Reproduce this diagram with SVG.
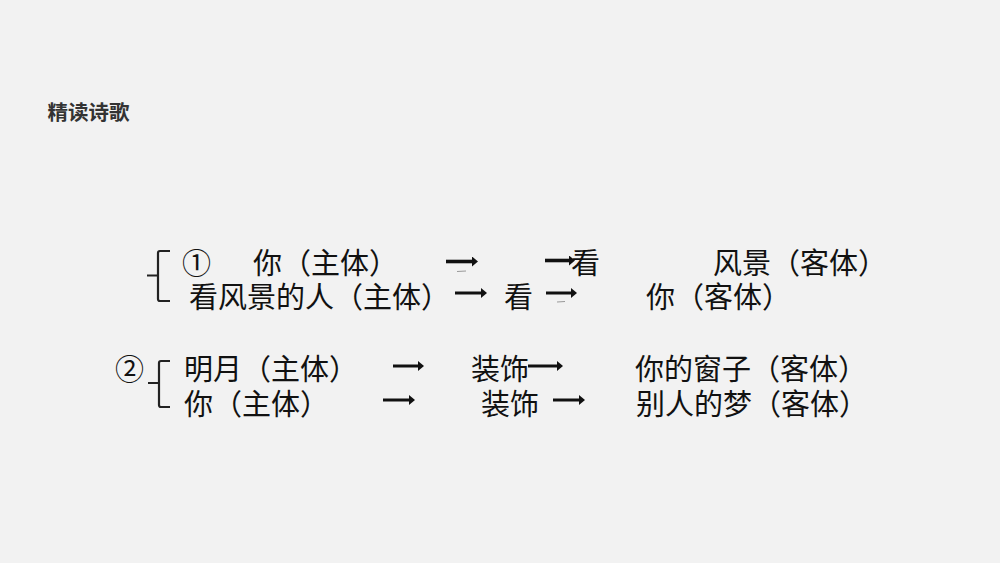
<svg xmlns="http://www.w3.org/2000/svg" width="1000" height="563" viewBox="0 0 1000 563">
  <style>
    .t { font-family: "Noto Sans CJK SC", "Noto Sans", sans-serif; font-size: 29px; fill: #111111; }
    .title { font-family: "Noto Sans CJK SC", "Noto Sans", sans-serif; font-size: 20.5px; font-weight: bold; fill: #333333; }
    .arr { stroke: #111111; stroke-width: 3.6; fill: none; marker-end: url(#head); }
    .arr2 { stroke: #111111; stroke-width: 3; fill: none; marker-end: url(#head); }
    .brace { stroke: #222222; stroke-width: 2.2; fill: none; stroke-linejoin: round; }
    .dash { stroke: #999999; stroke-width: 1; }
  </style>
  <defs>
    <marker id="head" viewBox="0 0 6 10" refX="0" refY="5" markerWidth="6" markerHeight="10" markerUnits="userSpaceOnUse" orient="auto">
      <path d="M0,0 L6,5 L0,10 z" fill="#111111"/>
    </marker>
  </defs>
  <rect width="1000" height="563" fill="#f2f2f2"/>
  <text class="title" x="47.5" y="119.5">精读诗歌</text>

  <g id="group1">
    <path class="brace" d="M170,251 H160 Q158,251 158,253 V299 Q158,301 160,301 H170 M147,275.5 H158"/>
    <g id="row1">
      <text class="t" x="182" y="273.5">①</text>
      <text class="t" x="253" y="273.5">你（主体）</text>
      <text class="t" x="571" y="273.5">看</text>
      <text class="t" x="713" y="273.5">风景（客体）</text>
    </g>
    <g id="row2">
      <text class="t" x="189" y="308">看风景的人（主体）</text>
      <text class="t" x="504" y="308">看</text>
      <text class="t" x="646" y="308">你（客体）</text>
    </g>
  </g>

  <g id="group2">
    <text class="t" x="115" y="379.5">②</text>
    <path class="brace" d="M170,361 H161 Q159,361 159,363 V405 Q159,407 161,407 H170 M148,383 H159"/>
    <g id="row3">
      <text class="t" x="184" y="379.5">明月（主体）</text>
      <text class="t" x="471" y="379.5">装饰</text>
      <text class="t" x="635" y="379.5">你的窗子（客体）</text>
    </g>
    <g id="row4">
      <text class="t" x="184" y="414.5">你（主体）</text>
      <text class="t" x="481" y="414.5">装饰</text>
      <text class="t" x="636" y="414.5">别人的梦（客体）</text>
    </g>
  </g>

  <g id="connectors">
    <line class="arr" x1="446" y1="261.5" x2="472" y2="261.5"/>
    <line class="arr" x1="545" y1="260.5" x2="569" y2="260.5"/>
    <line class="arr2" x1="455" y1="293" x2="481" y2="293"/>
    <line class="arr2" x1="546" y1="293" x2="571" y2="293"/>
    <line class="arr2" x1="393" y1="366" x2="418" y2="366"/>
    <line class="arr2" x1="528" y1="366" x2="557" y2="366"/>
    <line class="arr2" x1="383" y1="400" x2="409" y2="400"/>
    <line class="arr2" x1="553" y1="400" x2="579" y2="400"/>
    <line class="dash" x1="457" y1="271.5" x2="466" y2="271"/>
    <line class="dash" x1="557" y1="302" x2="565" y2="301.5"/>
  </g>
</svg>
